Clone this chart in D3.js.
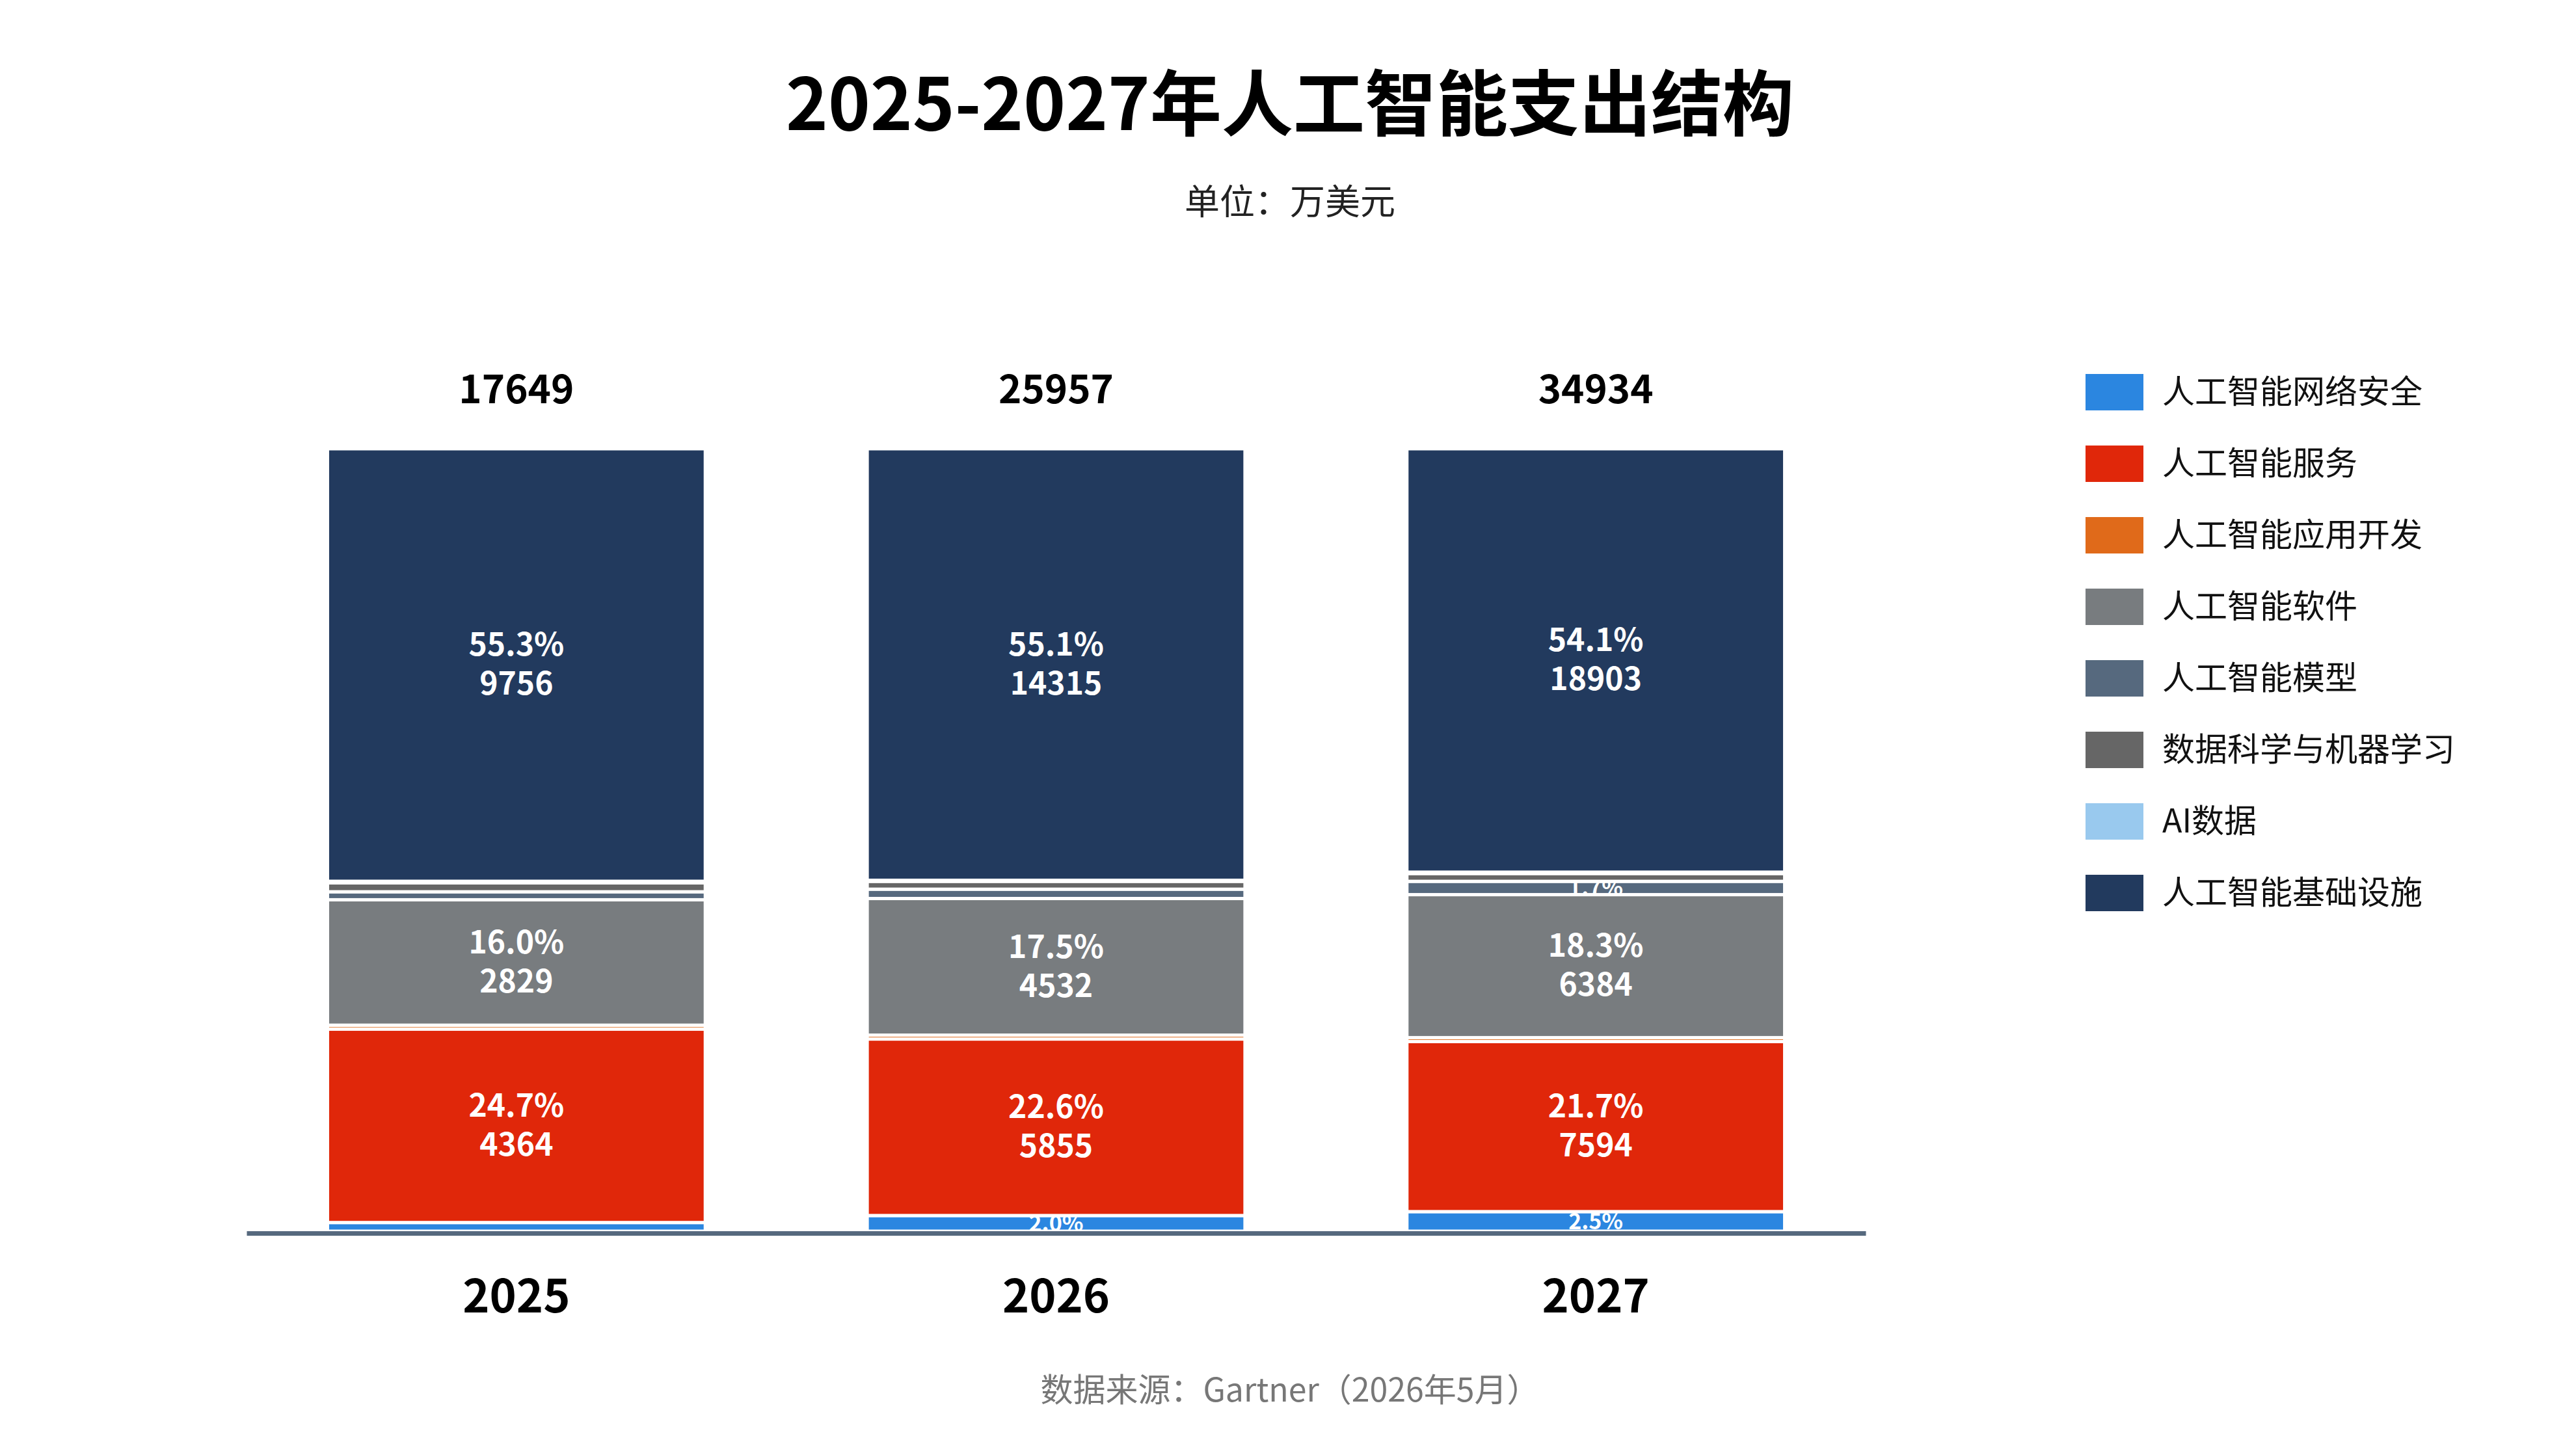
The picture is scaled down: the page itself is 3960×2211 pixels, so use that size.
<!DOCTYPE html>
<html lang="zh">
<head>
<meta charset="utf-8">
<title>2025-2027年人工智能支出结构</title>
<script src="https://cdn.jsdelivr.net/npm/d3@7/dist/d3.min.js"></script>
<style>
  body { margin: 0; background: #fff; }
  text { font-family: "Noto Sans CJK SC", "Noto Sans", sans-serif; }
</style>
</head>
<body>
<script>
// data (万美元)
var years = ["2025", "2026", "2027"];
var seriesNames = ["人工智能网络安全", "人工智能服务", "人工智能应用开发", "人工智能软件",
                   "人工智能模型", "数据科学与机器学习", "AI数据", "人工智能基础设施"];
var seriesColors = ["#2B86E0", "#E0270A", "#E06A1A", "#787C7F", "#56697E", "#666666", "#99C9EE", "#223A5E"];
var cyber    = [195, 519, 873];
var services = [4364, 5855, 7594];
var appDev   = [88, 130, 175];
var software = [2829, 4532, 6384];
var models   = [180, 310, 594];
var dataSci  = [200, 260, 350];
var aiData   = [37, 36, 61];
var infra    = [9756, 14315, 18903];
var totals   = [17649, 25957, 34934];

var W = 3960, H = 2211;
var svg = d3.select("body").append("svg").attr("width", W).attr("height", H);

var values = [cyber, services, appDev, software, models, dataSci, aiData, infra];
var rows = years.map(function (y, i) {
  var r = { year: y };
  seriesNames.forEach(function (s, k) { r[s] = values[k][i] / totals[i]; });
  return r;
});
var stacked = d3.stack().keys(seriesNames)(rows);

var x = d3.scaleBand().domain(years).range([379, 2868]).paddingInner(0.3).paddingOuter(0.15);
var y = d3.scaleLinear().domain([0, 1]).range([1893, 690]);

// title
svg.append("text").attr("x", 1983).attr("y", 200).attr("text-anchor", "middle")
  .attr("font-size", 110).attr("font-weight", "bold").attr("fill", "#000")
  .text("2025-2027年人工智能支出结构");
svg.append("text").attr("x", 1983).attr("y", 330).attr("text-anchor", "middle")
  .attr("font-size", 54).attr("fill", "#222").text("单位：万美元");

// bars
var g = svg.append("g");
stacked.forEach(function (layer, k) {
  g.selectAll(null).data(layer).enter().append("rect")
    .attr("x", function (d) { return x(d.data.year); })
    .attr("width", x.bandwidth())
    .attr("y", function (d) { return y(d[1]); })
    .attr("height", function (d) { return Math.max(0, y(d[0]) - y(d[1])); })
    .attr("fill", seriesColors[k])
    .attr("stroke", "#fff").attr("stroke-width", 5);

  layer.forEach(function (d, i) {
    var p = d[1] - d[0];
    var cx = x(d.data.year) + x.bandwidth() / 2;
    var cy = (y(d[0]) + y(d[1])) / 2;
    if (p >= 0.1) {
      var t = g.append("text").attr("x", cx).attr("text-anchor", "middle")
        .attr("font-size", 48).attr("font-weight", "bold").attr("fill", "#fff");
      t.append("tspan").attr("x", cx).attr("y", cy - 14).text((p * 100).toFixed(1) + "%");
      t.append("tspan").attr("x", cx).attr("y", cy + 46).text(values[k][i]);
    } else if (p >= 0.015) {
      g.append("text").attr("x", cx).attr("y", cy + 12).attr("text-anchor", "middle")
        .attr("font-size", 34).attr("font-weight", "bold").attr("fill", "#fff")
        .text((p * 100).toFixed(1) + "%");
    }
  });
});

// totals
svg.selectAll(null).data(years).enter().append("text")
  .attr("x", function (d) { return x(d) + x.bandwidth() / 2; })
  .attr("y", 620).attr("text-anchor", "middle")
  .attr("font-size", 60).attr("font-weight", "bold").attr("fill", "#000")
  .text(function (d, i) { return totals[i]; });

// x axis
var ax = svg.append("g").attr("transform", "translate(0,1896)")
  .call(d3.axisBottom(x).tickSize(0).tickPadding(72));
ax.select(".domain").attr("stroke", "#56697E").attr("stroke-width", 7);
ax.selectAll("text").attr("font-size", 70).attr("font-weight", "bold").attr("fill", "#000")
  .attr("font-family", "Noto Sans CJK SC, sans-serif");

// legend
var lg = svg.append("g").attr("transform", "translate(3206,575)");
seriesNames.forEach(function (s, k) {
  var row = lg.append("g").attr("transform", "translate(0," + k * 110 + ")");
  row.append("rect").attr("width", 89).attr("height", 56).attr("fill", seriesColors[k]);
  row.append("text").attr("x", 118).attr("y", 45).attr("font-size", 50).attr("fill", "#111").text(s);
});

// source
svg.append("text").attr("x", 1983).attr("y", 2155).attr("text-anchor", "middle")
  .attr("font-size", 50).attr("fill", "#777").text("数据来源：Gartner（2026年5月）");
</script>
</body>
</html>
